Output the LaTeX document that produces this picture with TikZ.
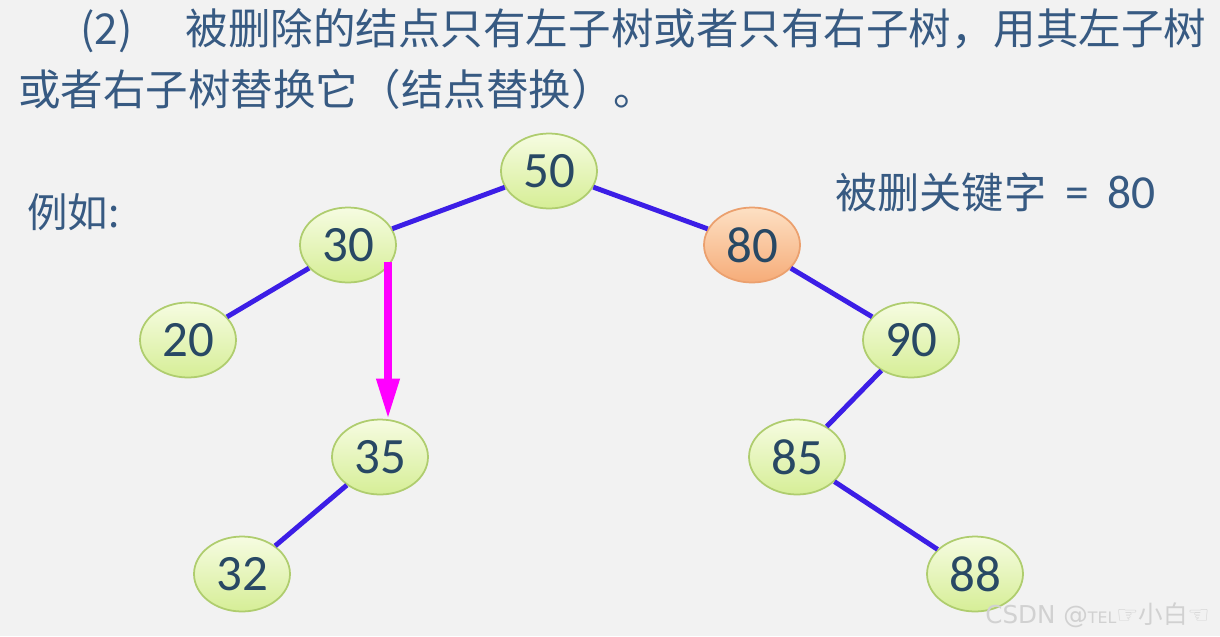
\documentclass[tikz,border=0pt]{standalone}
\usepackage{fontspec}
\setmainfont{Carlito}
\newfontfamily\cjk{Noto Sans CJK SC}
\newfontfamily\dejavu{DejaVu Sans}
\usetikzlibrary{shapes.geometric,arrows.meta}
\definecolor{slidebg}{RGB}{242,242,242}
\definecolor{titleblue}{RGB}{55,90,130}
\definecolor{numblue}{RGB}{40,72,100}
\definecolor{edgeblue}{RGB}{60,30,230}
\definecolor{leaftop}{RGB}{246,252,225}
\definecolor{leafbot}{RGB}{214,238,150}
\definecolor{leafrim}{RGB}{175,205,110}
\definecolor{deltop}{RGB}{253,224,195}
\definecolor{delbot}{RGB}{246,172,120}
\definecolor{delrim}{RGB}{235,160,110}
\definecolor{dropcol}{RGB}{255,0,255}
\begin{document}
\begin{tikzpicture}[x=0.02cm,y=-0.02cm,
    key/.style={ellipse, draw=leafrim, line width=1pt, top color=leaftop, bottom color=leafbot,
      minimum width=1.92cm, minimum height=1.5cm, inner sep=0pt, text=numblue,
      font=\fontsize{29}{29}\selectfont},
    deleted/.style={key, draw=delrim, top color=deltop, bottom color=delbot},
    link/.style={edgeblue, line width=2.8pt},
    title/.style={anchor=west, inner sep=0pt, text=titleblue, font=\cjk\fontsize{24.2}{24.2}\selectfont}]
    \fill[slidebg] (0,0) rectangle (1220,636);
    \useasboundingbox (0,0) rectangle (1220,636);
    % text
    \node[title] (line1) at (80,31) {(2)\hspace{1.25em}被删除的结点只有左子树或者只有右子树，用其左子树};
    \node[title] (line2) at (18,89) {或者右子树替换它（结点替换）。};
    \node[title, font=\cjk\fontsize{23}{23}\selectfont] (eg) at (27,212) {例如:};
    \node[title, font=\fontsize{27}{27}\selectfont] (given) at (835,192)
      {{\cjk\fontsize{24}{24}\selectfont 被删关键字}\hspace{0.4em}=\hspace{0.4em}80};
    % tree
    \node[key] (n50) at (549,171) {50};
    \node[key] (n30) at (348,245) {30};
    \node[deleted] (n80) at (752,245) {80};
    \node[key] (n20) at (188,340) {20};
    \node[key] (n90) at (911,340) {90};
    \node[key] (n35) at (380,457) {35};
    \node[key] (n85) at (797,457) {85};
    \node[key] (n32) at (242,574) {32};
    \node[key] (n88) at (975,574) {88};
    \draw[link] (n50) -- (n30);
    \draw[link] (n50) -- (n80);
    \draw[link] (n30) -- (n20);
    \draw[link] (n80) -- (n90);
    \draw[link] (n90) -- (n85);
    \draw[link] (n85) -- (n88);
    \draw[link] (n35) -- (n32);
    % replacement arrow
    \coordinate (drop) at (388,262);
    \draw[dropcol, line width=4pt, -{Triangle[width=0.44cm,length=0.8cm]}] (drop) -- (drop |- n35.north);
    % watermark
    \node[anchor=east, inner sep=0pt, text=black!18, font=\dejavu\fontsize{14}{14}\selectfont] (mark) at (1210,615)
      {CSDN @{\fontsize{9}{9}\selectfont TEL}☞{\cjk 小白}☜};
\end{tikzpicture}
\end{document}
